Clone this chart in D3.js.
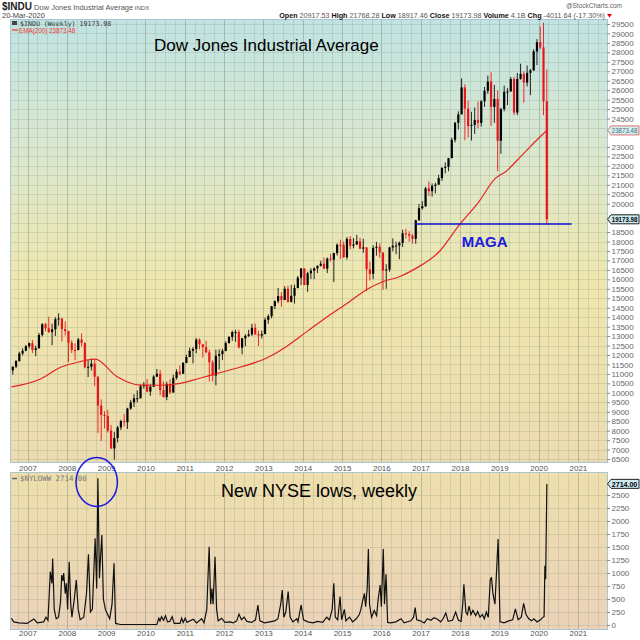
<!DOCTYPE html>
<html><head><meta charset="utf-8">
<script src="https://cdn.jsdelivr.net/npm/d3@7"></script>
<style>
html,body{margin:0;padding:0;background:#fff;}
svg{display:block;font-family:"Liberation Sans",Arial,sans-serif;}
</style></head>
<body><svg id="c" width="640" height="640"></svg>
<script>
// ---------------- DATA ----------------
// Dow Jones Industrial Average, monthly bars (Aug 2006 .. Mar 2020)
const djiaFirstMonth = {year: 2006, month: 8};
const djiaFirstOpen = 11186;
const djiaClose = [
  11381, 11679, 12081, 12222, 12463,
  12622, 12268, 12354, 13063, 13628, 13409, 13212, 13358, 13896, 13930, 13372, 13265,
  12650, 12266, 12263, 12820, 12638, 11350, 11378, 11544, 10851, 9325, 8829, 8776,
  8001, 7063, 7609, 8168, 8500, 8447, 9172, 9496, 9712, 9713, 10345, 10428,
  10067, 10325, 10857, 11009, 10137, 9774, 10466, 10015, 10788, 11118, 11006, 11578,
  11892, 12226, 12320, 12811, 12570, 12414, 12143, 11614, 10913, 11955, 12046, 12218,
  12633, 12952, 13212, 13214, 12393, 12880, 13009, 13091, 13437, 13096, 13026, 13104,
  13861, 14054, 14579, 14840, 15116, 14910, 15500, 14810, 15130, 15546, 16086, 16577,
  15699, 16322, 16458, 16581, 16717, 16827, 16563, 17098, 17043, 17391, 17828, 17823,
  17165, 18133, 17776, 17841, 18011, 17620, 17690, 16528, 16285, 17664, 17720, 17425,
  16466, 16517, 17685, 17774, 17787, 17930, 18432, 18401, 18308, 18142, 19124, 19763,
  19864, 20812, 20663, 20941, 21009, 21350, 21891, 21948, 22405, 23377, 24272, 24719,
  26149, 25029, 24103, 24163, 24416, 24271, 25415, 25965, 26458, 25116, 25538, 23327,
  24999, 25916, 25929, 26593, 24815, 26600, 26864, 26403, 26917, 27046, 28051, 28538,
  28256, 25409, 19174
];
const djiaHigh = [
  11400, 11730, 12170, 12360, 12530,
  12660, 12800, 12500, 13160, 13690, 13700, 14020, 13660, 14000, 14200, 13950, 13780,
  13280, 12780, 12620, 12900, 13140, 12660, 11700, 11810, 11790, 10880, 9650, 9030,
  9090, 8300, 7930, 8250, 8580, 8880, 9210, 9630, 9920, 10120, 10450, 10580,
  10730, 10450, 10930, 11260, 11210, 10600, 10590, 10720, 10960, 11250, 11450, 11630,
  12020, 12390, 12420, 12900, 12880, 12570, 12750, 12290, 11720, 12280, 12300, 12330,
  12720, 13000, 13290, 13340, 13340, 12900, 13100, 13330, 13650, 13660, 13290, 13290,
  13970, 14150, 14590, 14890, 15540, 15320, 15640, 15660, 15710, 15720, 16180, 16590,
  16590, 16400, 16590, 16630, 16740, 16980, 17150, 17150, 17350, 17400, 17900, 18100,
  18000, 18240, 18290, 18180, 18350, 18200, 18140, 17700, 16930, 17800, 17980, 17900,
  17400, 16800, 17720, 18170, 17990, 18000, 18620, 18670, 18540, 18400, 19150, 19990,
  20130, 20890, 21170, 21070, 21110, 21530, 21930, 22180, 22420, 23490, 24330, 24880,
  26620, 26310, 25450, 24860, 25090, 25400, 25470, 26170, 26770, 26950, 26280, 25980,
  25070, 26240, 26110, 26700, 26700, 26910, 27400, 27000, 27310, 27120, 28170, 28700,
  29370, 29570, 27100
];
const djiaLow = [
  10960, 11300, 11650, 11980, 12200,
  12350, 12100, 11940, 12350, 12980, 13250, 13170, 12520, 13000, 13550, 12720, 13030,
  11630, 12100, 11730, 12250, 12460, 11290, 10830, 11180, 10360, 7880, 7450, 8120,
  7900, 7030, 6470, 7380, 8030, 8220, 8090, 9100, 9250, 9490, 9700, 10220,
  10030, 9840, 10300, 10850, 9870, 9750, 9610, 9940, 10010, 10700, 10920, 11000,
  11570, 11890, 11560, 12090, 12300, 11860, 12090, 10600, 10600, 10400, 11230, 11730,
  12200, 12600, 12750, 12700, 12350, 12040, 12470, 12950, 13000, 13060, 12470, 12880,
  13100, 13650, 13940, 14430, 14740, 14550, 14900, 14760, 14780, 14720, 15520, 15700,
  15690, 15340, 16020, 16020, 16330, 16680, 16560, 16330, 16940, 15860, 17260, 17070,
  17140, 17040, 17580, 17640, 17830, 17590, 17400, 15370, 15940, 16010, 17250, 17140,
  15450, 15500, 16400, 17480, 17330, 17060, 17710, 18150, 17990, 17880, 17880, 19100,
  19680, 19830, 20410, 20380, 20550, 20990, 21210, 21600, 21710, 22410, 23240, 23920,
  24740, 23360, 23510, 23340, 23690, 23990, 24080, 25120, 25800, 24120, 24270, 21710,
  22640, 24880, 25210, 25990, 24690, 24680, 26550, 25340, 26200, 25740, 27030, 27330,
  28170, 24680, 18917
];
// EMA(200) (decimal year, value)
const emaT = [2006.59, 2007.33, 2007.84, 2008.34, 2008.72, 2009.28, 2009.86, 2010.37, 2010.88, 2011.38, 2011.89, 2012.40, 2013.07, 2013.58, 2013.93, 2014.51, 2015.19, 2015.61, 2016.03, 2016.46, 2016.88, 2017.47, 2017.98, 2018.48, 2018.90, 2019.16, 2019.58, 2020.00, 2020.21];
const emaV = [10310, 10730, 11350, 11650, 11780, 10850, 10410, 10400, 10500, 10770, 11060, 11350, 11830, 12440, 12970, 13850, 14820, 15440, 15870, 16140, 16580, 17460, 18870, 20100, 21340, 21690, 22570, 23460, 23873];
// New NYSE lows, weekly (decimal year, value)
const lowsT = [2006.59,2006.65,2006.78,2006.99,2007.16,2007.25,2007.41,2007.47,2007.52,2007.58,2007.62,2007.64,2007.68,2007.73,2007.79,2007.84,2007.87,2007.90,2007.92,2007.96,2007.99,2008.02,2008.06,2008.10,2008.13,2008.19,2008.24,2008.29,2008.34,2008.43,2008.50,2008.55,2008.60,2008.65,2008.68,2008.72,2008.76,2008.79,2008.83,2008.85,2008.89,2008.93,2008.98,2009.04,2009.09,2009.15,2009.20,2009.24,2009.36,2010.29,2010.34,2010.37,2010.41,2010.46,2010.51,2010.56,2010.62,2010.68,2010.73,2010.88,2010.92,2010.96,2011.01,2011.06,2011.13,2011.22,2011.30,2011.43,2011.49,2011.56,2011.62,2011.66,2011.69,2011.72,2011.77,2011.81,2011.85,2011.94,2012.02,2012.15,2012.23,2012.32,2012.38,2012.44,2012.51,2012.58,2012.70,2012.80,2012.86,2012.91,2013.03,2013.16,2013.29,2013.37,2013.44,2013.48,2013.52,2013.57,2013.63,2013.68,2013.75,2013.85,2013.88,2013.96,2014.02,2014.13,2014.26,2014.38,2014.51,2014.61,2014.68,2014.75,2014.79,2014.83,2014.89,2014.95,2014.99,2015.06,2015.10,2015.19,2015.27,2015.36,2015.44,2015.48,2015.52,2015.57,2015.60,2015.64,2015.67,2015.70,2015.75,2015.82,2015.88,2015.92,2015.97,2016.00,2016.05,2016.08,2016.12,2016.16,2016.24,2016.37,2016.50,2016.58,2016.75,2016.82,2016.86,2016.90,2016.99,2017.09,2017.17,2017.26,2017.34,2017.43,2017.51,2017.57,2017.64,2017.70,2017.81,2017.89,2017.96,2018.03,2018.07,2018.10,2018.15,2018.19,2018.23,2018.28,2018.33,2018.40,2018.45,2018.51,2018.57,2018.62,2018.67,2018.72,2018.77,2018.80,2018.84,2018.89,2018.92,2018.97,2019.02,2019.12,2019.24,2019.34,2019.41,2019.48,2019.56,2019.62,2019.68,2019.75,2019.82,2019.88,2019.96,2020.05,2020.11,2020.14,2020.16,2020.18,2020.21];
const lowsV = [130,60,40,30,115,40,60,150,90,1025,800,1280,300,120,150,450,960,850,1000,600,800,300,1218,400,150,500,865,300,100,150,600,1359,250,300,900,1667,700,2820,900,1200,1731,500,300,200,120,400,1186,30,10,10,130,80,160,90,180,60,70,160,30,30,130,50,130,50,80,110,40,120,40,300,1506,400,700,400,1314,300,80,130,50,60,40,80,210,100,150,70,50,100,385,80,40,60,80,120,400,673,150,250,641,150,60,120,60,385,100,60,40,70,50,150,100,300,801,150,100,545,100,300,80,150,60,120,200,300,450,609,350,700,1461,400,150,280,180,500,769,350,1461,400,974,50,40,60,120,40,80,150,333,100,80,40,120,90,140,110,60,120,230,70,90,250,90,70,400,782,250,200,365,200,280,180,260,150,200,120,250,150,865,920,600,400,865,1654,60,40,80,100,308,100,150,417,200,120,80,120,60,100,150,160,1140,880,2714];
const yearTicks = [2007,2008,2009,2010,2011,2012,2013,2014,2015,2016,2017,2018,2019,2020,2021];
const djiaTicks = d3.range(6500, 29501, 500);
const lowsTicks = d3.range(0, 2501, 250);
const magaLevel = 18925, magaFrom = 2016.85, magaTo = 2020.84;
const lastClose = 19173.98, lastEma = 23873.48, lastLows = 2714.00;

// ---------------- LAYOUT ----------------
const svg = d3.select("#c");
const L = 11, R = 607, T1 = 20, B1 = 462, T2 = 473, B2 = 629;
const x = d3.scaleLinear().domain([2006.58, 2021.74]).range([L, R]);
const y1 = d3.scaleLinear().domain([6343, 29711]).range([B1, T1]);
const y2 = d3.scaleLinear().domain([-77, 2923]).range([B2, T2]);

const defs = svg.append("defs");
const g1 = defs.append("linearGradient").attr("id","bg1").attr("x1",0).attr("y1",0).attr("x2",0).attr("y2",1);
[[0,"#c0e3e3"],[0.28,"#d9e7d0"],[0.6,"#efe6ae"],[1,"#ecdbb1"]].forEach(s=>g1.append("stop").attr("offset",s[0]).attr("stop-color",s[1]));
const g2 = defs.append("linearGradient").attr("id","bg2").attr("x1",0).attr("y1",0).attr("x2",0).attr("y2",1);
[[0,"#eedfad"],[1,"#ebd2b9"]].forEach(s=>g2.append("stop").attr("offset",s[0]).attr("stop-color",s[1]));
defs.append("clipPath").attr("id","cp1").append("rect").attr("x",L).attr("y",T1).attr("width",R-L).attr("height",B1-T1);
defs.append("clipPath").attr("id","cp2").append("rect").attr("x",L).attr("y",T2).attr("width",R-L).attr("height",B2-T2);

svg.append("rect").attr("x",L).attr("y",T1).attr("width",R-L).attr("height",B1-T1).attr("fill","url(#bg1)");
svg.append("rect").attr("x",L).attr("y",T2).attr("width",R-L).attr("height",B2-T2).attr("fill","url(#bg2)");

// grids
const quarters = d3.range(2006.75, 2021.74, 0.25);
const minorGrid = "rgba(120,140,110,0.2)", majorGrid = "rgba(110,130,100,0.4)";
function vgrid(top, bot){
  svg.append("g").selectAll("line").data(quarters).join("line")
    .attr("x1",d=>Math.round(x(d))+0.5).attr("x2",d=>Math.round(x(d))+0.5)
    .attr("y1",top).attr("y2",bot)
    .attr("stroke", d=> Number.isInteger(d) ? majorGrid : minorGrid)
    .attr("stroke-width",1);
}
vgrid(T1,B1); vgrid(T2,B2);
svg.append("g").selectAll("line").data(djiaTicks).join("line")
  .attr("x1",L).attr("x2",R).attr("y1",d=>Math.round(y1(d))+0.5).attr("y2",d=>Math.round(y1(d))+0.5)
  .attr("stroke",minorGrid);
svg.append("g").selectAll("line").data(lowsTicks).join("line")
  .attr("x1",L).attr("x2",R).attr("y1",d=>Math.round(y2(d))+0.5).attr("y2",d=>Math.round(y2(d))+0.5)
  .attr("stroke",minorGrid);

// panel borders
svg.append("rect").attr("x",L-0.5).attr("y",T1-0.5).attr("width",R-L+1).attr("height",B1-T1+1).attr("fill","none").attr("stroke","#a9c6d2");
svg.append("rect").attr("x",L-0.5).attr("y",T2-0.5).attr("width",R-L+1).attr("height",B2-T2+1).attr("fill","none").attr("stroke","#a9c6d2");

// ---------------- PRICE BARS ----------------
const bars = djiaClose.map((c,i)=>{
  const m = djiaFirstMonth.month - 1 + i;
  const t = djiaFirstMonth.year + (m + 0.5)/12;
  const o = i === 0 ? djiaFirstOpen : djiaClose[i-1];
  return {t, o, h: djiaHigh[i], l: djiaLow[i], c};
});
const pb = svg.append("g").attr("clip-path","url(#cp1)");
pb.selectAll("line.w").data(bars).join("line").attr("class","w")
  .attr("x1",d=>x(d.t)).attr("x2",d=>x(d.t))
  .attr("y1",d=>y1(d.h)).attr("y2",d=>y1(d.l))
  .attr("stroke",d=>d.c>=d.o?"#222":"#ec2a2a").attr("stroke-width",1);
pb.selectAll("rect.b").data(bars).join("rect").attr("class","b")
  .attr("x",d=>x(d.t)-1.1).attr("width",2.2)
  .attr("y",d=>y1(Math.max(d.o,d.c))).attr("height",d=>Math.max(1,Math.abs(y1(d.o)-y1(d.c))))
  .attr("fill",d=>d.c>=d.o?"#000":"#e8161a");

// EMA
const emaData = emaT.map((t,i)=>({t, v: emaV[i]}));
pb.append("path").datum(emaData)
  .attr("d", d3.line().x(d=>x(d.t)).y(d=>y1(d.v)).curve(d3.curveMonotoneX))
  .attr("fill","none").attr("stroke","#e42323").attr("stroke-width",1.2);

// MAGA line
svg.append("line").attr("x1",x(magaFrom)).attr("x2",x(magaTo)).attr("y1",y1(magaLevel)).attr("y2",y1(magaLevel))
  .attr("stroke","#1010d8").attr("stroke-width",1.5);
svg.append("text").attr("x",x(magaFrom)+47).attr("y",y1(magaLevel)+23).text("MAGA")
  .attr("font-size",15).attr("font-weight","bold").attr("fill","#1a1ae0");

// ---------------- LOWS LINE ----------------
const lowsData = lowsT.map((t,i)=>({t, v: lowsV[i]}));
svg.append("g").attr("clip-path","url(#cp2)").append("path").datum(lowsData)
  .attr("d", d3.line().x(d=>x(d.t)).y(d=>y2(d.v)))
  .attr("fill","none").attr("stroke","#111").attr("stroke-width",1.2).attr("stroke-linejoin","miter");

// ---------------- AXES ----------------
function xAxis(yPos){
  const ax = svg.append("g").attr("transform",`translate(0,${yPos})`)
    .call(d3.axisBottom(x).tickValues(yearTicks).tickFormat(d3.format("d")).tickSize(0).tickPadding(0));
  ax.select(".domain").remove();
  ax.selectAll("text").attr("font-size",8).attr("fill","#555").attr("font-family","Liberation Sans, Arial");
}
xAxis(465); xAxis(630);

function yAxis(scale, ticks, tags){
  const shown = ticks.filter(v => tags.every(t => Math.abs(scale(v) - scale(t)) > 7.6));
  const ax = svg.append("g").attr("transform",`translate(${R},0)`)
    .call(d3.axisRight(scale).tickValues(shown).tickFormat(d3.format("d")).tickSize(3).tickPadding(1.5));
  ax.select(".domain").remove();
  ax.selectAll("line").attr("stroke","#888");
  ax.selectAll("text").attr("font-size",8).attr("fill","#666").attr("font-family","Liberation Sans, Arial");
}
yAxis(y1, djiaTicks, [lastEma, lastClose]); yAxis(y2, lowsTicks, [lastLows]);

function tag(yv, label, stroke, fill, color, bold){
  const g = svg.append("g").attr("transform",`translate(${R},${yv})`);
  g.append("path").attr("d","M0.5,0 L4,-4.5 L32,-4.5 L32,4.5 L4,4.5 Z").attr("fill",fill).attr("stroke",stroke).attr("stroke-width",1);
  g.append("text").attr("x",4.8).attr("y",2.7).text(label).attr("font-size",7)
    .attr("textLength",25.5).attr("lengthAdjust","spacingAndGlyphs")
    .attr("font-weight",bold?"bold":"normal").attr("fill",color).attr("font-family","Liberation Sans, Arial");
}
tag(y1(lastEma), d3.format(".2f")(lastEma), "#e07070", "#d3eef0", "#4a6a80", false);
tag(y1(lastClose), d3.format(".2f")(lastClose), "#222", "#cde9ef", "#000", true);
tag(y2(lastLows), d3.format(".2f")(lastLows), "#222", "#cde9ef", "#000", true);

// ---------------- TEXTS ----------------
svg.append("text").attr("x",154).attr("y",51).text("Dow Jones Industrial Average").attr("font-size",17).attr("fill","#000");
svg.append("text").attr("x",221).attr("y",497).text("New NYSE lows, weekly").attr("font-size",18).attr("fill","#000");

// header
const h1 = svg.append("text").attr("x",2).attr("y",10).attr("fill","#222");
h1.append("tspan").text("$INDU").attr("font-weight","bold").attr("font-size",10);
h1.append("tspan").text(" Dow Jones Industrial Average").attr("font-size",7.5).attr("fill","#555");
h1.append("tspan").text(" INDX").attr("font-size",6).attr("fill","#555");
svg.append("text").attr("x",2).attr("y",18).text("20-Mar-2020").attr("font-size",7.5).attr("fill","#444");
svg.append("text").attr("x",622).attr("y",8).attr("text-anchor","end").text("@StockCharts.com").attr("font-size",6.5).attr("fill","#666");
const hr = svg.append("text").attr("x",605).attr("y",18).attr("text-anchor","end").attr("font-size",7.2).attr("fill","#555");
[["Open"," 20917.53 "],["High"," 21768.28 "],["Low"," 18917.46 "],["Close"," 19173.98 "],["Volume"," 4.1B "],["Chg"," -4011.64 (-17.30%)"]]
  .forEach(p=>{ hr.append("tspan").text(p[0]).attr("font-weight","bold").attr("fill","#111"); hr.append("tspan").text(p[1]); });
svg.append("path").attr("d","M607,14 L612,14 L609.5,17.5 Z").attr("fill","#e00");

// legends
svg.append("rect").attr("x",12).attr("y",21).attr("width",5).attr("height",4).attr("fill","#444");
svg.append("text").attr("x",20).attr("y",25.5).text("$INDU (Weekly) 19173.98").attr("font-size",6.6).attr("fill","#333").attr("font-family","DejaVu Sans Mono, monospace");
svg.append("line").attr("x1",12).attr("x2",18).attr("y1",30).attr("y2",30).attr("stroke","#e33").attr("stroke-width",1.2);
svg.append("text").attr("x",19).attr("y",33).text("EMA(200) 23873.48").attr("font-size",6.3).attr("fill","#e33");
svg.append("line").attr("x1",12).attr("x2",17).attr("y1",478.5).attr("y2",478.5).attr("stroke","#666").attr("stroke-width",1.5);
svg.append("text").attr("x",20).attr("y",481).text("$NYLOWW 2714.00").attr("font-size",7.4).attr("fill","#777").attr("font-family","DejaVu Sans Mono, monospace");

// circle annotation
svg.append("ellipse").attr("cx",x(2008.76)).attr("cy",y2(2750)).attr("rx",20.7).attr("ry",24.5)
  .attr("fill","none").attr("stroke","#1a1ae6").attr("stroke-width",1.5);
</script></body></html>
